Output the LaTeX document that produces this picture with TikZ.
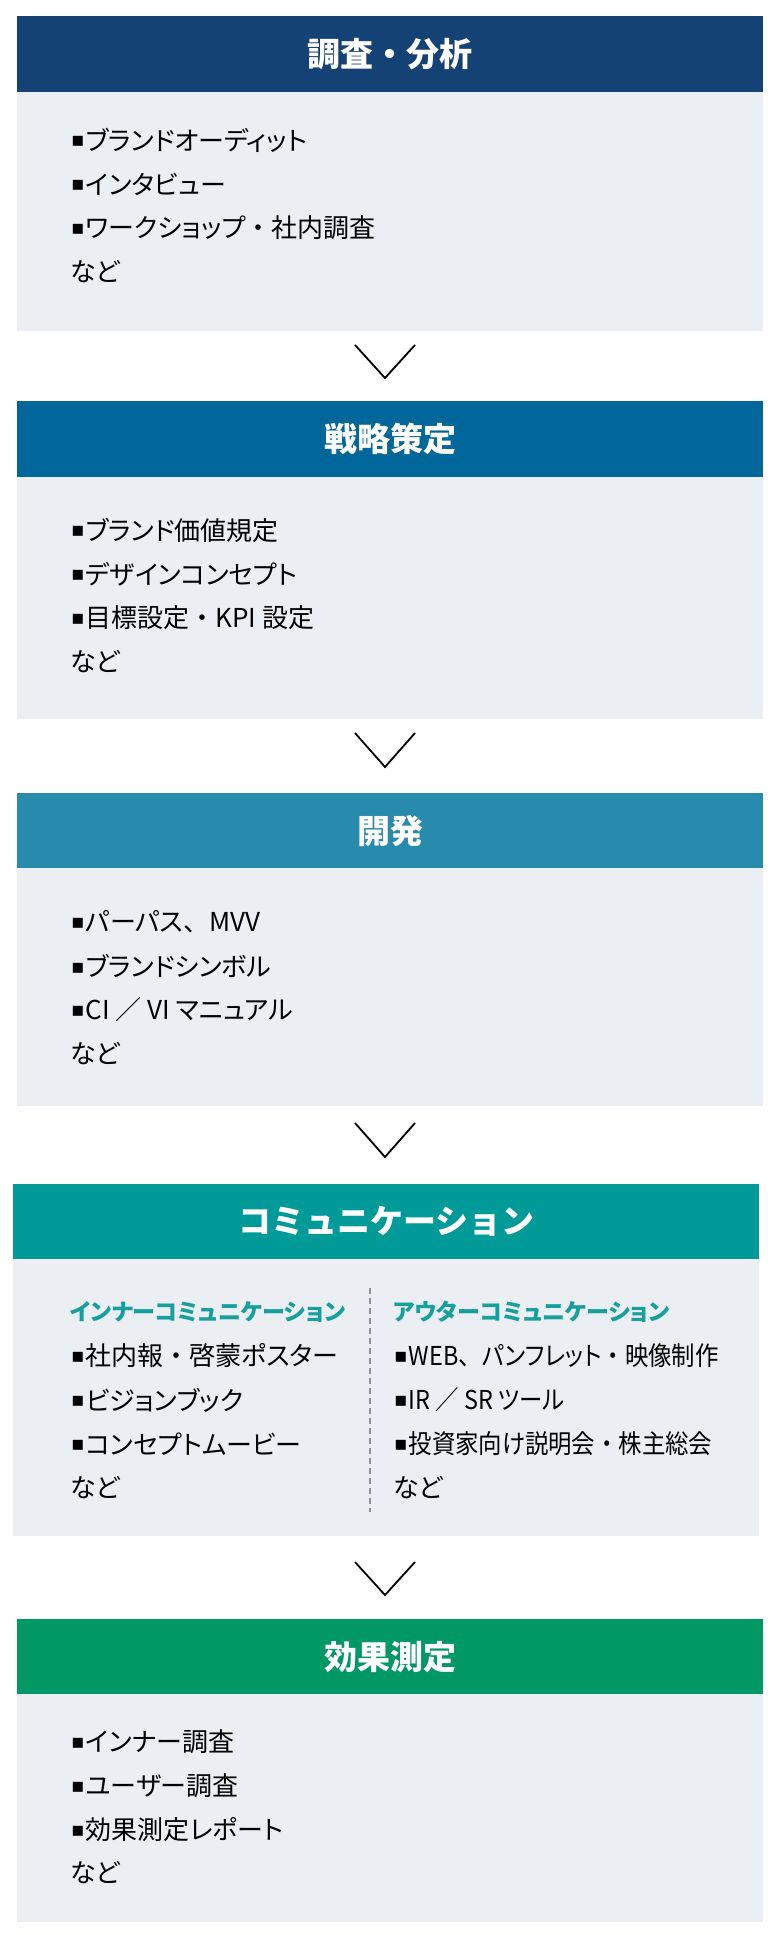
\documentclass[tikz,border=0pt]{standalone}
\usepackage{fontspec}
\setmainfont{Noto Sans CJK JP}
\newfontfamily\bodyf{Noto Sans CJK JP}[RawFeature=+palt]
\newfontfamily\plainjp{Noto Sans CJK JP}
\newfontfamily\condf{Noto Sans CJK JP}[RawFeature=+palt, FakeStretch=0.9]
\newfontfamily\condplain{Noto Sans CJK JP}[FakeStretch=0.9]
\newfontfamily\symf{DejaVu Sans}
\definecolor{cA}{HTML}{154274}
\definecolor{cB}{HTML}{016699}
\definecolor{cC}{HTML}{288AAC}
\definecolor{cD}{HTML}{009A98}
\definecolor{cE}{HTML}{009865}
\definecolor{bodybg}{HTML}{EBEEF3}
\definecolor{subc}{HTML}{15A09E}
\definecolor{dashc}{HTML}{8A8F96}
\newcommand\itembul{\makebox[14.5pt][l]{\raisebox{3.5pt}{\symf\fontsize{20}{20}\selectfont ▪}}}
\newcommand\jdot{{\plainjp ・}}
\newcommand\jcomma{{\plainjp 、}}
\newcommand\jslash{{\plainjp ／}}
\newcommand\cjdot{{\condplain ・}}
\newcommand\cjcomma{{\condplain 、}}
\newcommand\cjslash{{\condplain ／}}
\tikzset{
  hdr/.style={rectangle, inner sep=0pt, minimum width=746pt, minimum height=#1, anchor=north west,
    text=white, font=\fontsize{33}{36}\selectfont\bfseries},
  bodybox/.style={rectangle, inner sep=0pt, fill=bodybg, minimum width=746pt, minimum height=#1, anchor=north west},
  itemtxt/.style={inner sep=0pt, anchor=west, text=black, font=\bodyf\fontsize{26}{28}\selectfont},
  itemcond/.style={inner sep=0pt, anchor=west, text=black, font=\condf\fontsize{26}{28}\selectfont},
  subtxt/.style={inner sep=0pt, anchor=west, text=subc, font=\bodyf\fontsize{23}{26}\selectfont\bfseries},
  chev/.style={draw=black, line width=1.8pt, line join=miter},
  divider/.style={draw=dashc, line width=1.3pt, dash pattern=on 6pt off 4pt}
}
\begin{document}
\begin{tikzpicture}[x=1pt, y=-1pt]
\useasboundingbox[fill=white] (0,0) rectangle (780,1935);

% ---- Box 1
\node[hdr=76pt, fill=cA] (h1) at (17,16) {調査・分析};
\node[bodybox=239pt] (b1) at (17,92) {};
\node[itemtxt] (t11) at (71,140) {\itembul ブランドオーディット};
\node[itemtxt] (t12) at (71,184) {\itembul インタビュー};
\node[itemtxt] (t13) at (71,228) {\itembul ワークショップ\jdot 社内調査};
\node[itemtxt] (t14) at (70,272) {など};

\coordinate (a1l) at (355,345); \coordinate (a1t) at (385,378); \coordinate (a1r) at (415,345);
\draw[chev] (a1l) -- (a1t) -- (a1r);

% ---- Box 2
\node[hdr=76pt, fill=cB] (h2) at (17,401) {戦略策定};
\node[bodybox=242pt] (b2) at (17,477) {};
\node[itemtxt] (t21) at (71,530) {\itembul ブランド価値規定};
\node[itemtxt] (t22) at (71,574) {\itembul デザインコンセプト};
\node[itemtxt] (t23) at (71,618) {\itembul 目標設定\jdot KPI 設定};
\node[itemtxt] (t24) at (70,662) {など};

\coordinate (a2l) at (355,733); \coordinate (a2t) at (385,767); \coordinate (a2r) at (415,733);
\draw[chev] (a2l) -- (a2t) -- (a2r);

% ---- Box 3
\node[hdr=75pt, fill=cC] (h3) at (17,793) {開発};
\node[bodybox=238pt] (b3) at (17,868) {};
\node[itemtxt] (t31) at (71,922) {\itembul パーパス\jcomma MVV};
\node[itemtxt] (t32) at (71,966) {\itembul ブランドシンボル};
\node[itemtxt] (t33) at (71,1010) {\itembul CI \jslash\ VI マニュアル};
\node[itemtxt] (t34) at (70,1054) {など};

\coordinate (a3l) at (355,1123); \coordinate (a3t) at (385,1157); \coordinate (a3r) at (415,1123);
\draw[chev] (a3l) -- (a3t) -- (a3r);

% ---- Box 4
\node[hdr=75pt, fill=cD] (h4) at (13,1184) {コミュニケーション};
\node[bodybox=277pt] (b4) at (13,1259) {};
\coordinate (d4a) at (370,1288); \coordinate (d4b) at (370,1512);
\draw[divider] (d4a) -- (d4b);
\node[subtxt] (s41) at (70,1312) {インナーコミュニケーション};
\node[itemtxt] (t41) at (71,1356) {\itembul 社内報\jdot 啓蒙ポスター};
\node[itemtxt] (t42) at (71,1400) {\itembul ビジョンブック};
\node[itemtxt] (t43) at (71,1444) {\itembul コンセプトムービー};
\node[itemtxt] (t44) at (70,1488) {など};
\node[subtxt] (s42) at (393,1312) {アウターコミュニケーション};
\node[itemcond] (u41) at (394,1356) {\itembul WEB\cjcomma パンフレット\cjdot 映像制作};
\node[itemcond] (u42) at (394,1400) {\itembul IR \cjslash\ SR ツール};
\node[itemcond] (u43) at (394,1444) {\itembul 投資家向け説明会\cjdot 株主総会};
\node[itemtxt] (u44) at (393,1488) {など};

\coordinate (a4l) at (355,1562); \coordinate (a4t) at (385,1595); \coordinate (a4r) at (415,1562);
\draw[chev] (a4l) -- (a4t) -- (a4r);

% ---- Box 5
\node[hdr=75pt, fill=cE] (h5) at (17,1619) {効果測定};
\node[bodybox=228pt] (b5) at (17,1694) {};
\node[itemtxt] (t51) at (71,1742) {\itembul インナー調査};
\node[itemtxt] (t52) at (71,1786) {\itembul ユーザー調査};
\node[itemtxt] (t53) at (71,1830) {\itembul 効果測定レポート};
\node[itemtxt] (t54) at (70,1873) {など};
\end{tikzpicture}
\end{document}
